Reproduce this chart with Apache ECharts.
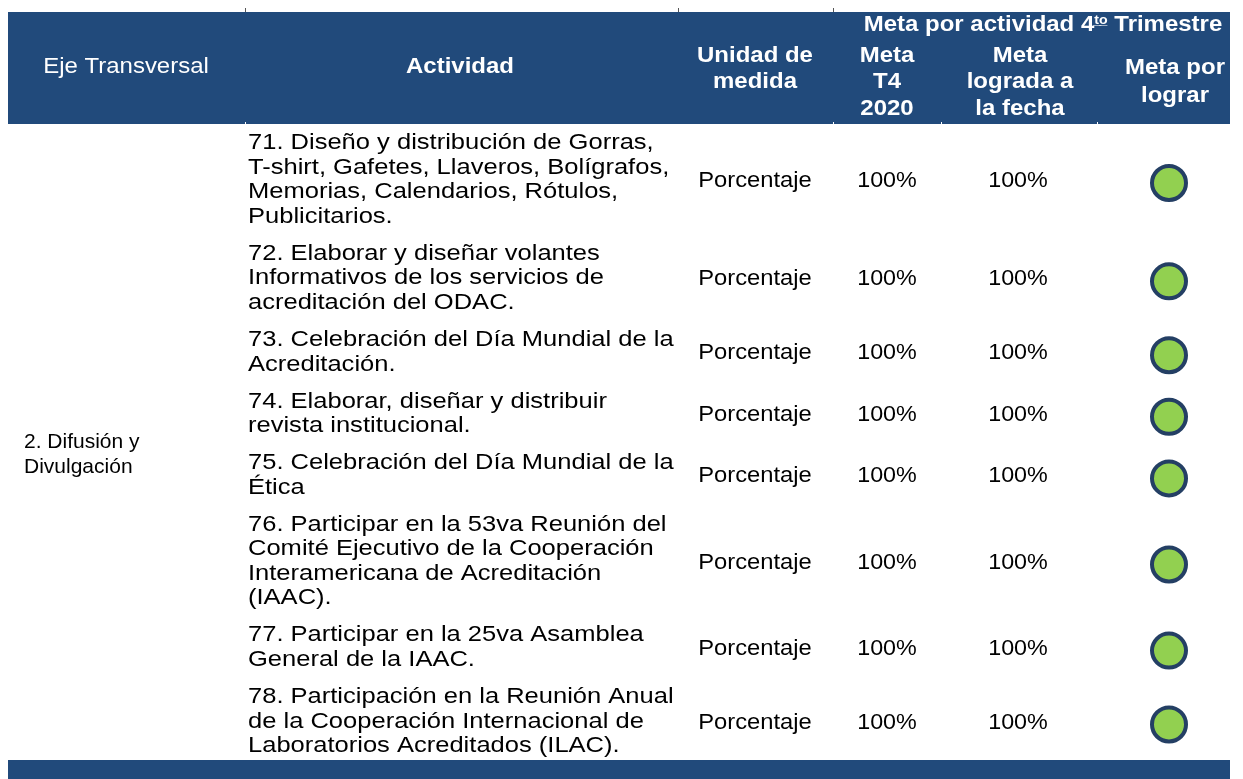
<!DOCTYPE html>
<html>
<head>
<meta charset="utf-8">
<title>Meta por actividad 4to Trimestre</title>
<script src="https://cdn.jsdelivr.net/npm/echarts@6/dist/echarts.min.js"></script>
<style>
    html, body { margin: 0; padding: 0; background: #fff; }
    #main { width: 1243px; height: 779px; }
</style>
</head>
<body>
<div id="main"></div>
<script>
// 数据
var ejeTransversal = '2. Difusión y\nDivulgación';
var actividades = [
    '71. Diseño y distribución de Gorras,\nT-shirt, Gafetes, Llaveros, Bolígrafos,\nMemorias, Calendarios, Rótulos,\nPublicitarios.',
    '72. Elaborar y diseñar volantes\nInformativos de los servicios de\nacreditación del ODAC.',
    '73. Celebración del Día Mundial de la\nAcreditación.',
    '74. Elaborar, diseñar y distribuir\nrevista institucional.',
    '75. Celebración del Día Mundial de la\nÉtica',
    '76. Participar en la 53va Reunión del\nComité Ejecutivo de la Cooperación\nInteramericana de Acreditación\n(IAAC).',
    '77. Participar en la 25va Asamblea\nGeneral de la IAAC.',
    '78. Participación en la Reunión Anual\nde la Cooperación Internacional de\nLaboratorios Acreditados (ILAC).'
];
var unidades = ['Porcentaje', 'Porcentaje', 'Porcentaje', 'Porcentaje', 'Porcentaje', 'Porcentaje', 'Porcentaje', 'Porcentaje'];
var metaT4 = [100, 100, 100, 100, 100, 100, 100, 100];
var metaLograda = [100, 100, 100, 100, 100, 100, 100, 100];
var estado = ['logrado', 'logrado', 'logrado', 'logrado', 'logrado', 'logrado', 'logrado', 'logrado'];

(function () {
    var myChart = echarts.init(document.getElementById('main'));

    var azul = '#214A7B';
    var fuente = '"Liberation Sans", Arial, sans-serif';
    var LINEA = 24.5, PAD = 12.6, TOP = 131;

    // 每行的位置 (按行数计算)
    var filas = [];
    var y = TOP;
    actividades.forEach(function (t) {
        var n = t.split('\n').length;
        var h = n * LINEA + PAD;
        filas.push({ top: y, n: n, centro: y + n * LINEA / 2 });
        y += h;
    });
    var fondo = y;

    var colores = { logrado: '#92D050', pendiente: '#FFC000', atrasado: '#FF0000' };

    function celda(p, text, align, sx) {
        return {
            type: 'text', x: p[0], y: p[1], scaleX: sx,
            style: {
                text: text, fill: '#000', align: align, verticalAlign: 'middle',
                font: '22px ' + fuente, lineHeight: LINEA
            }
        };
    }

    function hdr(text, x, yy, bold, lh) {
        return {
            type: 'text', x: x, y: yy, scaleX: 1.09,
            style: {
                text: text, fill: '#fff', align: 'center', verticalAlign: 'middle',
                font: (bold ? 'bold ' : '') + '22px ' + fuente,
                lineHeight: lh || 26.5
            }
        };
    }

    var option = {
        animation: false,
        grid: { left: 0, right: 0, top: 0, bottom: 0 },
        xAxis: { type: 'value', min: 0, max: 1243, show: false },
        yAxis: { type: 'value', min: 0, max: 779, inverse: true, show: false },
        graphic: [
            { type: 'rect', shape: { x: 8, y: 12, width: 1222, height: 112 }, style: { fill: azul } },
            { type: 'rect', shape: { x: 8, y: 760, width: 1222, height: 19 }, style: { fill: azul } },
            // 小刻度线
            { type: 'line', shape: { x1: 245.5, y1: 8, x2: 245.5, y2: 12 }, style: { stroke: '#555', lineWidth: 1 } },
            { type: 'line', shape: { x1: 678.5, y1: 8, x2: 678.5, y2: 12 }, style: { stroke: '#555', lineWidth: 1 } },
            { type: 'line', shape: { x1: 833.5, y1: 8, x2: 833.5, y2: 12 }, style: { stroke: '#555', lineWidth: 1 } },
            { type: 'line', shape: { x1: 245.5, y1: 122, x2: 245.5, y2: 126 }, style: { stroke: '#fff', lineWidth: 1 } },
            { type: 'line', shape: { x1: 833.5, y1: 122, x2: 833.5, y2: 126 }, style: { stroke: '#fff', lineWidth: 1 } },
            { type: 'line', shape: { x1: 941.5, y1: 122, x2: 941.5, y2: 126 }, style: { stroke: '#fff', lineWidth: 1 } },
            { type: 'line', shape: { x1: 1097.5, y1: 122, x2: 1097.5, y2: 126 }, style: { stroke: '#fff', lineWidth: 1 } },
            hdr('Eje Transversal', 126, 67, false),
            hdr('Actividad', 460, 67, true),
            hdr('Unidad de\nmedida', 755, 69, true, 26),
            {
                type: 'text', x: 1043, y: 25, scaleX: 1.09,
                style: {
                    text: '{n|Meta por actividad 4}{s|t̲o̲}{n| Trimestre}',
                    align: 'center', verticalAlign: 'middle',
                    rich: {
                        n: { fill: '#fff', font: 'bold 22px ' + fuente },
                        s: { fill: '#fff', font: 'bold 13px ' + fuente, padding: [0, 0, 10, 0] }
                    }
                }
            },
            hdr('Meta\nT4\n2020', 887, 82, true),
            hdr('Meta\nlograda a\nla fecha', 1020, 82, true),
            hdr('Meta por\nlograr', 1175, 82, true, 28)
        ],
        series: [
            {
                // 轴线标签
                type: 'custom',
                coordinateSystem: 'cartesian2d',
                silent: true,
                clip: false,
                data: [[24, (TOP + fondo) / 2 + 4]],
                renderItem: function (params, api) {
                    var p = api.coord([api.value(0), api.value(1)]);
                    var el = celda(p, ejeTransversal, 'left', 1);
                    el.style.font = '21px ' + fuente;
                    el.style.lineHeight = 25;
                    return el;
                }
            },
            {
                // 表格内容
                type: 'custom',
                coordinateSystem: 'cartesian2d',
                silent: true,
                clip: false,
                data: actividades.map(function (t, i) { return [i, filas[i].centro]; }),
                renderItem: function (params, api) {
                    var i = params.dataIndex;
                    var yc = api.value(1);
                    return {
                        type: 'group',
                        children: [
                            celda(api.coord([248, yc]), actividades[i], 'left', 1.16),
                            celda(api.coord([755, yc + 1]), unidades[i], 'center', 1.08),
                            celda(api.coord([887, yc + 1]), metaT4[i] + '%', 'center', 1.06),
                            celda(api.coord([1018, yc + 1]), metaLograda[i] + '%', 'center', 1.06)
                        ]
                    };
                }
            },
            {
                type: 'scatter',
                silent: true,
                symbol: 'circle',
                symbolSize: 34,
                data: estado.map(function (e, i) {
                    return { value: [1169, filas[i].centro + 3], itemStyle: { color: colores[e] } };
                }),
                itemStyle: { borderColor: '#243F64', borderWidth: 4, opacity: 1 }
            }
        ]
    };

    myChart.setOption(option);
    window.addEventListener('resize', function () {
        myChart.resize();
    });
})();
</script>
</body>
</html>
